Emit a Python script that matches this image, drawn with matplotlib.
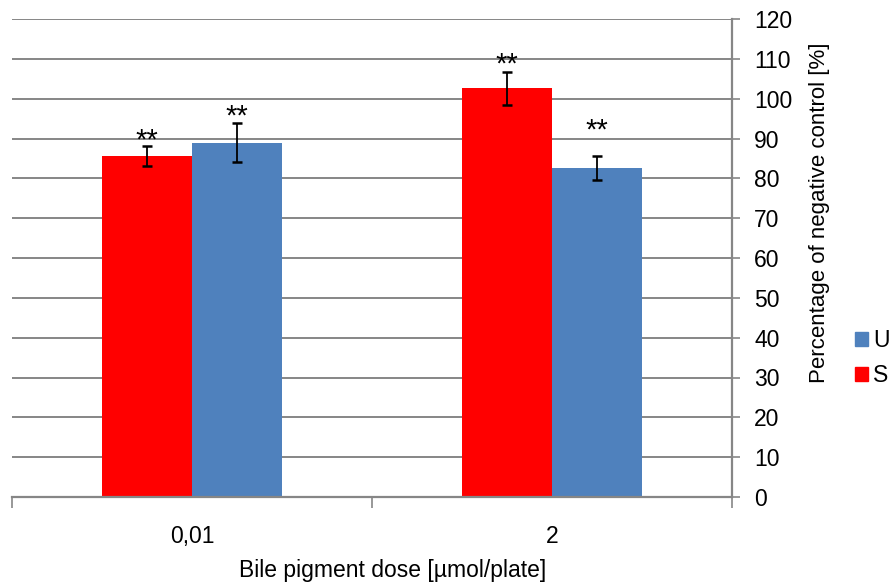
import matplotlib
matplotlib.use('Agg')
import matplotlib.pyplot as plt
import numpy as np
from matplotlib.patches import Patch

plt.rcParams['font.family'] = ['Liberation Sans', 'DejaVu Sans']

categories = ['0,01', '2']
s_values = [85.6, 102.6]
s_errors = [2.4, 4.1]
u_values = [88.9, 82.5]
u_errors = [4.9, 3.0]
s_stars = [89.4, 108.6]
u_stars = [95.6, 92.0]
y_ticks = list(range(0, 121, 10))

red = '#ff0000'
blue = '#4f81bd'
grey = '#868686'
fs = 16.5

fig = plt.figure(figsize=(8.92, 5.84), dpi=100)
ax = fig.add_axes([12/892, 1 - 497/584, 720/892, 478/584])

x = np.arange(len(categories))
width = 0.25

ax.bar(x - width/2, s_values, width, color=red, zorder=2)
ax.bar(x + width/2, u_values, width, color=blue, zorder=2)
ax.errorbar(x - width/2, s_values, yerr=s_errors, fmt='none', ecolor='black',
            elinewidth=1.3, capsize=3.3, capthick=1.8, zorder=3)
ax.errorbar(x + width/2, u_values, yerr=u_errors, fmt='none', ecolor='black',
            elinewidth=1.3, capsize=3.3, capthick=1.8, zorder=3)

# significance marks
for xi, yi in zip(x - width/2, s_stars):
    ax.text(xi, yi, '**', ha='center', va='center', fontsize=21, zorder=4)
for xi, yi in zip(x + width/2, u_stars):
    ax.text(xi, yi, '**', ha='center', va='center', fontsize=21, zorder=4)

ax.set_xlim(-0.5, len(categories) - 0.5)
ax.set_ylim(0, 120)
ax.set_yticks(y_ticks)
ax.yaxis.tick_right()
ax.grid(axis='y', color=grey, linewidth=1.4, zorder=0)

ax.set_xticks(x)
ax.set_xticklabels(categories, fontsize=fs)
ax.set_xticks(np.arange(len(categories) + 1) - 0.5, minor=True)
ax.tick_params(axis='x', which='major', length=0, pad=20)
ax.tick_params(axis='x', which='minor', length=8, width=1.2, color=grey, direction='out')
ax.tick_params(axis='y', labelsize=fs, length=6, width=1.2, color=grey, pad=10)
for lbl in ax.get_yticklabels():
    lbl.set_horizontalalignment('left')

for side in ['top', 'left']:
    ax.spines[side].set_visible(False)
for side in ['bottom', 'right']:
    ax.spines[side].set_color(grey)
    ax.spines[side].set_linewidth(1.6)

fig.text(820/892, 1 - 213/584, 'Percentage of negative control [%]', rotation=90,
         ha='center', va='center', fontsize=16)
fig.text(393/892, 1 - 571/584, 'Bile pigment dose [\u00b5mol/plate]',
         ha='center', va='center', fontsize=fs)

handles = [Patch(color=blue, label='U'), Patch(color=red, label='S')]
fig.legend(handles=handles, loc='center left', bbox_to_anchor=(855/892, 1 - 358/584),
           frameon=False, fontsize=fs, handlelength=0.55, handleheight=0.55,
           handletextpad=0.25, labelspacing=0.5, borderpad=0, borderaxespad=0)

fig.savefig('out.png', dpi=100)
